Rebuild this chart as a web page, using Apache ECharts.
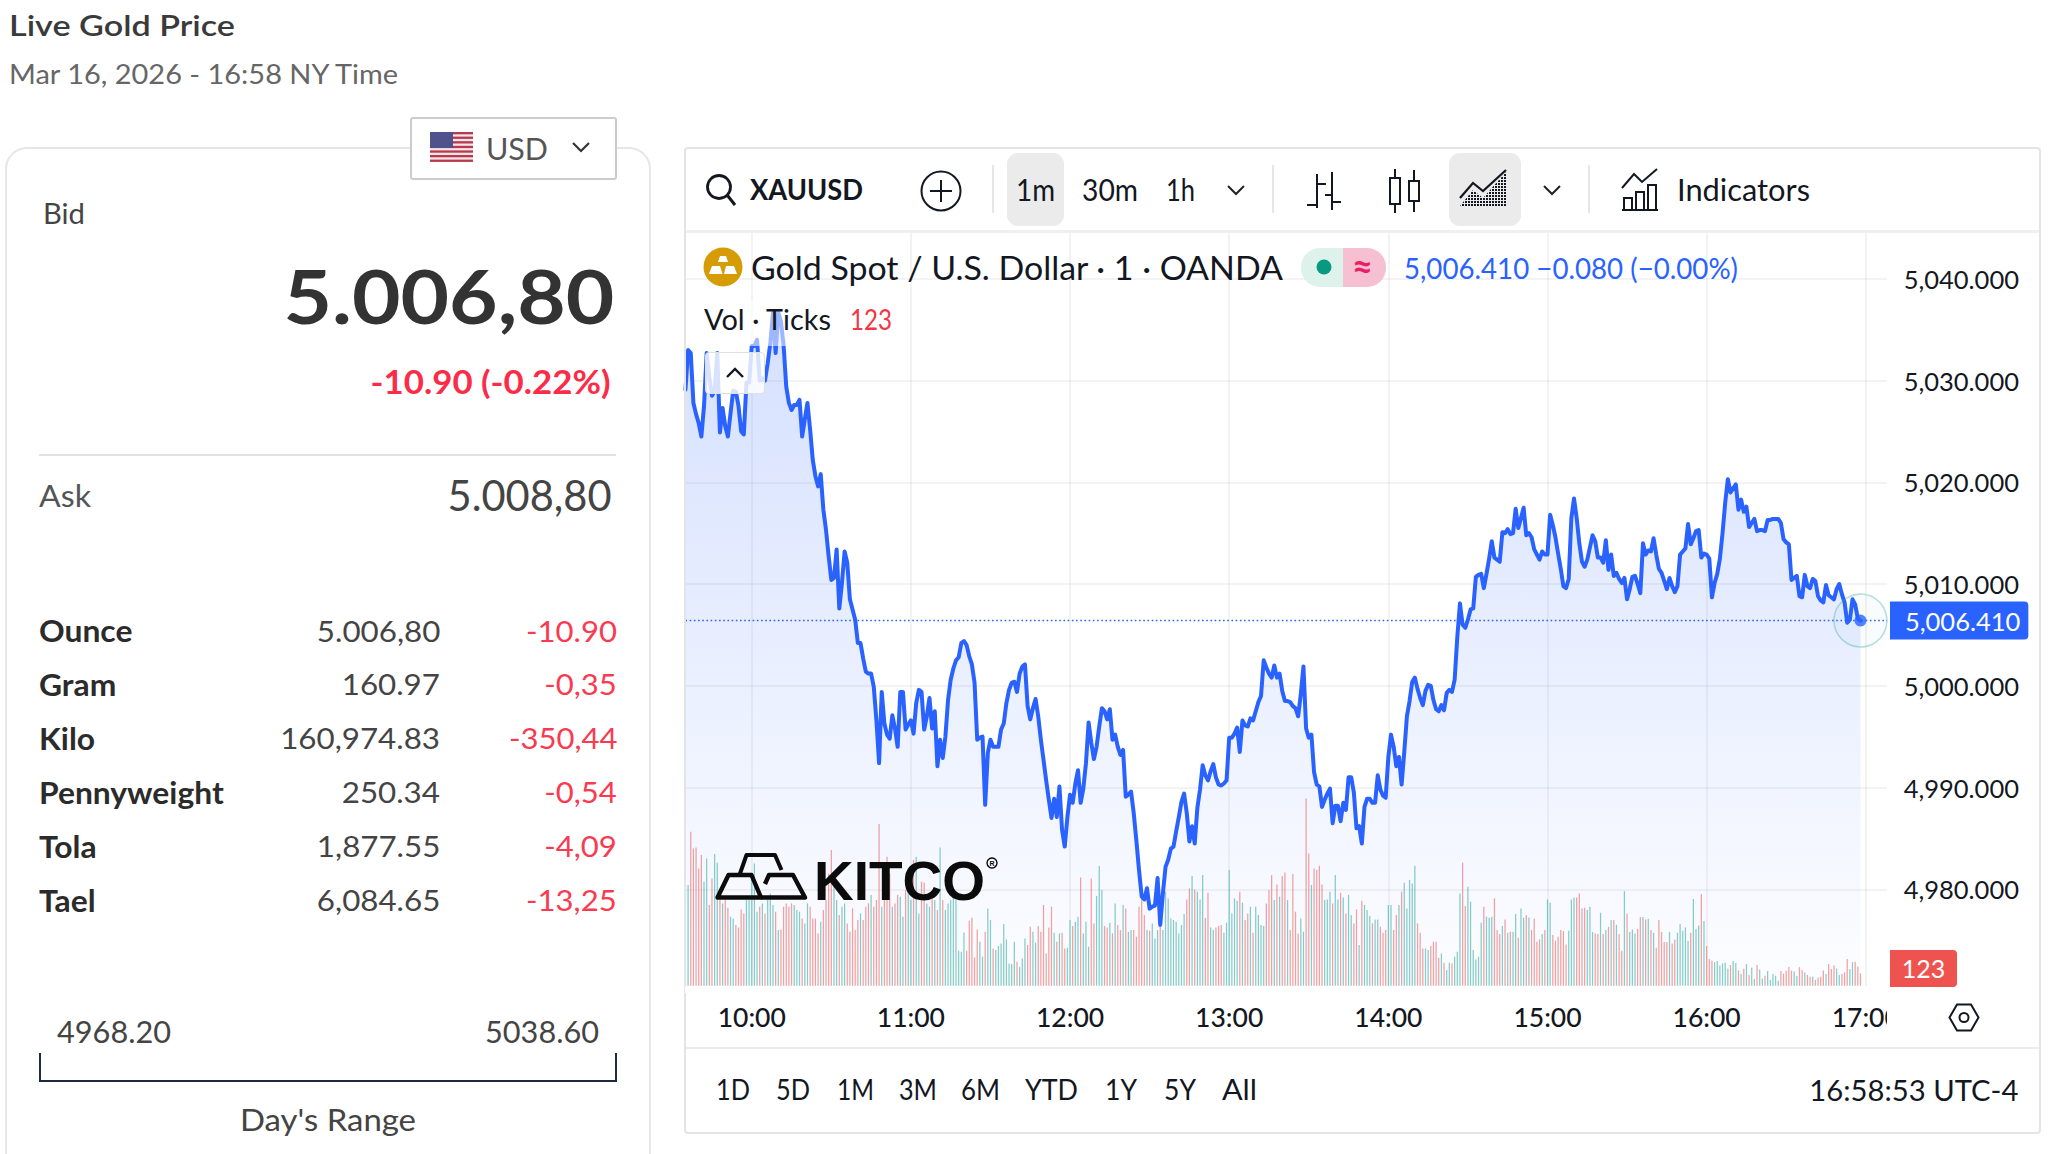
<!DOCTYPE html>
<html>
<head>
<meta charset="utf-8">
<title>Live Gold Price</title>
<script src="https://cdn.jsdelivr.net/npm/echarts@6/dist/echarts.min.js"></script>
<style>
  html, body { margin: 0; padding: 0; background: #fff; }
  #page { position: relative; width: 2048px; height: 1154px; overflow: hidden; font-family: Lato, sans-serif; }
  #chart { position: absolute; left: 0; top: 0; width: 2048px; height: 1154px; }
  .t { position: absolute; white-space: nowrap; line-height: 1; z-index: 5; }
  .box { position: absolute; box-sizing: border-box; }
  svg.ic { position: absolute; overflow: visible; z-index: 5; }
</style>
</head>
<body>
<div id="page">
  <div class="box" style="left:5px;top:147px;width:646px;height:1040px;border:2px solid #e6e6e6;border-radius:22px;"></div>
  <div id="chart"></div>
</div>
<script>
// One-minute XAUUSD closes from 09:35 to 16:58, ten minutes per row.
const prices = [
  5029.1,5033.0,5032.7,5027.8,5026.7,5025.8,5024.5,5027.5,5032.7,5030.4,
  5028.5,5029.0,5032.7,5024.9,5027.3,5025.5,5024.5,5026.8,5029.0,5028.9,
  5027.5,5025.0,5024.7,5029.8,5029.8,5033.4,5033.4,5034.0,5030.0,5030.2,
  5030.0,5031.7,5033.7,5036.7,5032.7,5036.7,5035.8,5033.5,5029.4,5027.8,
  5027.1,5027.6,5027.6,5028.1,5024.5,5026.2,5027.8,5025.2,5022.2,5020.6,
  5019.6,5020.8,5017.3,5015.3,5012.7,5010.4,5010.6,5013.4,5007.6,5010.1,
  5013.2,5012.1,5008.5,5007.5,5006.5,5004.2,5004.2,5002.7,5001.4,5001.2,
  5001.2,4999.9,4996.6,4992.4,4999.4,4996.3,4995.2,4994.8,4997.1,4995.8,
  4994.0,4999.4,4999.4,4995.7,4996.2,4996.6,4995.3,4998.3,4999.6,4999.4,
  4995.7,4997.0,4998.8,4995.8,4997.5,4992.1,4994.7,4992.9,4995.0,4998.6,
  5000.6,5001.7,5002.5,5002.8,5004.2,5004.4,5004.0,5002.9,5002.1,5000.3,
  4994.7,4994.9,4995.0,4988.3,4993.4,4994.7,4994.0,4994.0,4994.0,4995.7,
  4996.3,4998.3,4999.6,5000.3,5000.4,4999.4,5001.2,5001.9,5002.1,4998.0,
  4996.7,4997.8,4998.7,4997.0,4994.7,4992.7,4990.7,4988.8,4987.0,4988.9,
  4987.1,4990.1,4985.8,4984.2,4987.1,4989.3,4988.5,4990.4,4991.7,4988.5,
  4989.9,4992.4,4996.4,4994.4,4992.8,4994.0,4996.0,4997.8,4997.5,4996.7,
  4997.7,4994.7,4995.2,4994.0,4993.2,4993.7,4989.1,4989.3,4989.6,4987.5,
  4984.8,4981.9,4979.3,4979.0,4980.1,4978.1,4978.3,4978.4,4981.1,4976.5,
  4979.6,4982.2,4982.9,4984.0,4984.2,4985.7,4987.1,4988.6,4989.4,4987.5,
  4984.7,4986.2,4984.5,4988.0,4989.8,4992.2,4991.2,4990.7,4991.6,4992.3,
  4991.0,4990.3,4990.2,4990.4,4990.7,4994.9,4994.9,4995.3,4995.9,4993.5,
  4996.6,4996.1,4996.0,4996.8,4996.6,4997.5,4998.4,4999.0,5002.5,5001.8,
  5001.2,5000.8,5002.0,5000.8,5001.2,4999.5,4998.5,4998.5,4998.4,4998.0,
  4997.8,4997.0,4999.2,5001.9,4995.8,4994.9,4995.2,4991.5,4990.3,4990.1,
  4988.1,4988.8,4989.4,4989.9,4986.5,4988.2,4988.2,4986.7,4988.5,4987.8,
  4991.0,4991.0,4989.5,4986.0,4986.2,4984.5,4988.1,4988.9,4988.9,4988.5,
  4988.5,4991.2,4989.8,4989.2,4989.0,4993.0,4995.2,4994.0,4992.1,4993.0,
  4990.3,4993.5,4997.0,4998.5,5000.4,5000.8,4999.7,4998.8,4998.1,4999.5,
  5000.1,5000.0,4998.6,4997.7,4997.5,4998.1,4997.6,4999.3,4999.6,4999.4,
  5000.6,5004.8,5008.1,5006.0,5005.7,5006.5,5007.5,5007.6,5010.7,5010.9,
  5011.0,5009.6,5011.0,5012.5,5014.2,5012.6,5012.4,5012.2,5015.1,5015.0,
  5015.4,5014.9,5015.0,5017.4,5015.5,5016.5,5017.5,5014.8,5015.0,5014.6,
  5013.4,5012.9,5012.4,5013.2,5012.9,5012.9,5016.8,5015.8,5014.6,5013.0,
  5011.5,5009.8,5009.6,5010.5,5016.5,5018.4,5016.5,5014.0,5012.2,5011.7,
  5012.4,5013.6,5014.8,5014.2,5012.6,5012.6,5012.1,5014.3,5011.4,5012.9,
  5010.8,5011.1,5010.5,5010.1,5010.6,5008.5,5009.5,5010.7,5010.8,5010.0,
  5009.1,5014.0,5012.9,5013.3,5013.2,5014.5,5012.9,5011.5,5011.1,5010.3,
  5009.5,5010.6,5009.8,5009.2,5009.8,5012.9,5013.2,5013.5,5015.9,5013.9,
  5014.5,5015.2,5015.3,5012.6,5013.0,5012.9,5012.5,5008.7,5010.1,5011.0,
  5012.5,5015.0,5018.0,5020.3,5019.0,5019.4,5019.8,5017.3,5018.3,5017.1,
  5017.6,5015.6,5016.0,5016.4,5015.2,5015.3,5015.3,5015.2,5016.3,5016.3,
  5016.4,5016.4,5016.4,5016.0,5014.4,5014.1,5013.9,5010.4,5010.6,5010.8,
  5008.8,5008.7,5010.9,5009.8,5009.6,5010.5,5010.3,5008.8,5008.4,5008.2,
  5009.9,5008.9,5008.7,5008.5,5009.5,5010.0,5009.0,5008.2,5006.2,5006.5,
  5008.5,5008.0,5006.6,5006.41
];

// Tick volume for the same minutes.
const ticks = [
  1007,1007,1540,1373,1383,1173,1307,1040,1273,807,
  1073,1317,1230,857,823,857,780,690,673,607,
  583,763,723,857,857,1057,1223,740,790,823,
  723,857,923,807,740,557,563,790,823,790,
  823,807,757,740,673,623,823,790,673,673,
  523,640,757,857,1123,1357,1073,857,707,790,
  823,623,540,773,557,657,723,657,790,823,
  907,790,857,1617,790,1223,1290,1123,790,823,
  907,890,690,957,1123,857,1257,1290,723,1040,
  1033,823,790,907,857,757,1383,857,757,823,
  857,890,857,350,340,533,350,650,680,283,
  563,440,290,540,773,657,373,357,397,423,
  617,463,223,217,440,240,190,273,473,407,
  590,540,430,597,540,807,323,583,790,530,
  440,523,530,373,380,657,597,640,690,1083,
  523,640,390,1073,623,897,1197,957,597,583,
  630,523,823,607,557,807,773,540,557,557,
  490,790,890,707,557,550,623,473,557,690,
  557,940,873,673,657,640,523,607,717,863,
  973,1097,963,940,863,1107,680,930,583,557,
  583,597,607,530,630,1157,723,873,850,940,
  830,657,723,790,530,790,707,607,597,823,
  957,1107,857,1013,890,1097,1133,857,557,1117,
  740,523,673,540,1873,1323,1007,1173,1157,1200,
  1013,857,863,940,823,1107,863,930,883,723,
  907,707,623,763,407,850,807,757,697,623,
  663,663,590,530,557,807,807,557,707,807,
  940,1030,773,1057,1023,1200,623,530,373,373,
  357,397,440,440,280,323,230,157,230,223,
  290,340,923,1230,797,990,840,357,263,290,
  630,790,690,680,690,873,557,517,597,663,
  530,540,540,717,480,773,680,707,683,557,
  673,440,463,517,557,863,830,507,450,490,
  556,546,413,550,862,882,882,922,773,779,
  756,789,536,523,516,729,516,556,589,656,
  656,609,516,350,946,723,536,563,523,566,
  686,686,663,669,556,529,380,656,536,436,
  436,539,423,463,529,616,549,583,446,529,
  866,566,603,916,646,396,266,253,236,246,
  203,223,230,170,206,246,226,153,117,170,
  216,107,180,67,206,163,73,100,147,57,
  117,100,50,147,120,150,186,150,143,97,
  186,156,133,107,90,90,57,83,90,153,
  117,216,166,203,170,107,117,133,266,166,
  236,240,193,123
];

// Minutes along the time axis; the axis runs ten minutes past the last print.
const minuteLabels = [];
for (let m = 9 * 60 + 35; m <= 17 * 60 + 8; m++) {
  minuteLabels.push(String(Math.floor(m / 60)).padStart(2, '0') + ':' + String(m % 60).padStart(2, '0'));
}

// Side panel figures.
const unitNames   = ['Ounce', 'Gram', 'Kilo', 'Pennyweight', 'Tola', 'Tael'];
const unitPrices  = ['5.006,80', '160.97', '160,974.83', '250.34', '1,877.55', '6,084.65'];
const unitChanges = ['-10.90', '-0,35', '-350,44', '-0,54', '-4,09', '-13,25'];
const rangeButtons = ['1D', '5D', '1M', '3M', '6M', 'YTD', '1Y', '5Y', 'All'];

const lastPrice = prices[prices.length - 1];
const lastTicks = ticks[ticks.length - 1];
const lastIndex = prices.length - 1;
const fmt = v => v.toLocaleString('en-US', { minimumFractionDigits: 3, maximumFractionDigits: 3 });
const onHour = (i) => minuteLabels[i] && minuteLabels[i].endsWith(':00');

const page = document.getElementById('page');

// Places a text run by its left or right edge and vertical centre; w stretches it to a given width.
function label(text, o) {
  const el = document.createElement('span');
  el.className = 't';
  el.textContent = text;
  el.style.fontSize = o.size + 'px';
  el.style.fontFamily = o.font || 'Lato, sans-serif';
  el.style.fontWeight = o.weight || 400;
  el.style.color = o.color || '#333';
  el.style.top = (o.y - o.size / 2 - (o.dy === undefined ? 1 : o.dy)) + 'px';
  page.appendChild(el);
  const width = el.getBoundingClientRect().width;
  const sx = o.w ? o.w / width : (o.sx || 1);
  if (o.r !== undefined) {
    el.style.left = (o.r - width) + 'px';
    el.style.transformOrigin = 'right center';
  } else {
    el.style.left = o.x + 'px';
    el.style.transformOrigin = 'left center';
  }
  el.style.transform = 'scaleX(' + sx + ')';
  return el;
}
function box(css) {
  const d = document.createElement('div');
  d.className = 'box';
  d.style.cssText += css;
  page.appendChild(d);
  return d;
}
function icon(x, y, w, h, inner) {
  page.insertAdjacentHTML('beforeend',
    `<svg class="ic" style="left:${x}px;top:${y}px" width="${w}" height="${h}" viewBox="0 0 ${w} ${h}">${inner}</svg>`);
}
const chevron = (cx, cy) => icon(cx - 10, cy - 6, 20, 12, '<path d="M2 2 L10 10 L18 2" fill="none" stroke="#222" stroke-width="2"/>');

// Page header and currency selector
label('Live Gold Price', { x: 9, y: 25, size: 29, weight: 600, color: '#3a3a3a', w: 226 });
label('Mar 16, 2026 - 16:58 NY Time', { x: 9, y: 74, size: 27, color: '#666', w: 389 });
box('left:410px;top:117px;width:207px;height:63px;background:#fff;border:2px solid #ccc;border-radius:3px;z-index:4;');
let stripes = '';
for (let s = 0; s < 7; s++) stripes += `<rect x="0" y="${s * 4.6}" width="43" height="2.3" fill="#b93a4e"/>`;
icon(430, 132, 43, 30, `<rect width="43" height="30" fill="#f3e6e8"/>${stripes}<rect width="23" height="16" fill="#50528c"/>`);
label('USD', { x: 486, y: 149, size: 30, color: '#555', w: 62 });
icon(571, 141, 20, 12, '<path d="M2 2 L10 10 L18 2" fill="none" stroke="#333" stroke-width="2.2"/>');

// Bid and ask block
label('Bid', { x: 43, y: 213, size: 29, color: '#444', w: 42 });
label('5.006,80', { r: 614, y: 297, size: 74, weight: 700, color: '#333', w: 331 });
label('-10.90 (-0.22%)', { r: 611, y: 382.5, size: 32, weight: 700, color: '#fb2c47', w: 240 });
box('left:39px;top:454px;width:577px;height:2px;background:#e2e2e2;');
label('Ask', { x: 39, y: 496, size: 30, color: '#555', w: 52 });
label('5.008,80', { r: 612, y: 495.5, size: 43, color: '#444', w: 164 });

// Price per unit table
unitNames.forEach((name, i) => {
  const y = 631 + i * 53.9;
  label(name, { x: 39, y, size: 30, weight: 700, color: '#2b2b2b', sx: 1.06 });
  label(unitPrices[i], { r: 440, y, size: 29, color: '#444', sx: 1.08 });
  label(unitChanges[i], { r: 617, y, size: 29, color: '#f93a50', sx: 1.07 });
});

// Day's range bracket
label('4968.20', { x: 57, y: 1032, size: 30, color: '#444', w: 114 });
label('5038.60', { x: 485, y: 1032, size: 30, color: '#444', w: 114 });
box('left:39px;top:1053px;width:578px;height:29px;border:2px solid #1b2a3d;border-top:0;');
label("Day's Range", { x: 239.5, y: 1120, size: 30, color: '#444', w: 176 });

// Chart frame
box('left:684px;top:147px;width:1357px;height:987px;border:2px solid #e4e4e4;border-radius:4px;z-index:3;');
box('left:686px;top:230px;width:1353px;height:3px;background:#f0f0f0;z-index:3;');
box('left:686px;top:1047px;width:1353px;height:2px;background:#ececec;z-index:3;');
box('left:685px;top:986px;width:1202px;height:7px;background:#fff;z-index:3;');
box('left:1887px;top:1000px;width:60px;height:40px;background:#fff;z-index:3;');

// Top toolbar
icon(705, 173, 32, 34, '<circle cx="14" cy="14" r="11.5" fill="none" stroke="#131722" stroke-width="2.8"/><path d="M22.5 22.5 L30 32" stroke="#131722" stroke-width="3"/>');
label('XAUUSD', { x: 750, y: 189.5, size: 29, weight: 700, color: '#131722', w: 113 });
icon(920, 170, 42, 42, '<circle cx="21" cy="21" r="19.5" fill="none" stroke="#131722" stroke-width="2"/><path d="M21 10 V32 M10 21 H32" stroke="#131722" stroke-width="2"/>');
[992, 1271.5, 1587.5].forEach(x => box(`left:${x}px;top:165px;width:2px;height:48px;background:#e6e6e6;z-index:4;`));
box('left:1007px;top:153px;width:57px;height:73px;background:#ebebeb;border-radius:11px;z-index:4;');
label('1m', { x: 1016, y: 190, size: 30, color: '#131722', w: 39 });
label('30m', { x: 1082, y: 190, size: 30, color: '#131722', w: 56 });
label('1h', { x: 1166, y: 190, size: 30, color: '#131722', w: 29 });
chevron(1236, 190);
icon(1306, 170, 36, 42, '<path d="M11 4 V38 M1 35 H11 M11 14 H20 M26 2 V40 M19 25 H26 M26 32 H35" fill="none" stroke="#131722" stroke-width="2"/>');
icon(1388, 168, 34, 46, '<rect x="2" y="10" width="10" height="26" fill="none" stroke="#131722" stroke-width="2"/><path d="M7 1 V10 M7 36 V45 M26 2 V13 M26 33 V44" stroke="#131722" stroke-width="2"/><rect x="21" y="13" width="10" height="20" fill="none" stroke="#131722" stroke-width="2"/>');
box('left:1449px;top:153px;width:72px;height:73px;background:#ebebeb;border-radius:11px;z-index:4;');
icon(1459, 168, 50, 40, '<defs><pattern id="hatch" width="3" height="3" patternUnits="userSpaceOnUse"><rect width="2" height="2" fill="#131722"/></pattern></defs><path d="M1 38 L14 22 L24 30 L47 4 V38 Z" fill="url(#hatch)"/><path d="M1 30 L14 15 L24 23 L47 2" fill="none" stroke="#131722" stroke-width="2.2"/>');
chevron(1552, 190);
icon(1620, 168, 40, 44, '<path d="M2 20 L14 6 L22 14 L37 1" fill="none" stroke="#131722" stroke-width="2"/><path d="M2 42 H38 M4 42 V30 H12 V42 M16 42 V24 H24 V42 M28 42 V17 H36 V42" fill="none" stroke="#131722" stroke-width="2"/>');
label('Indicators', { x: 1677, y: 189.5, size: 30, color: '#131722', w: 133 });

// Range buttons and clock
const rangeEdges = [[716,750],[776,810],[837,874],[899,937],[961,1000],[1025,1078],[1105,1137],[1164,1196],[1222,1257]];
rangeButtons.forEach((b, i) => label(b, { x: rangeEdges[i][0], y: 1090, size: 28, color: '#131722', w: rangeEdges[i][1] - rangeEdges[i][0] }));
label('16:58:53 UTC-4', { r: 2018, y: 1090, size: 29, color: '#131722', w: 209 });

// Translucent backing behind the second legend row, then the legend itself
box('left:700px;top:300px;width:205px;height:46px;background:rgba(255,255,255,.55);z-index:4;');
icon(703, 247, 40, 40, '<circle cx="20" cy="20" r="19.5" fill="#d69c06"/><path d="M15 15 L17 9 H23 L25 15 Z M6 27 L9 19 H17 L19.5 27 Z M21 27 L23 19 H31 L34 27 Z" fill="#fff"/>');
label('Gold Spot / U.S. Dollar · 1 · OANDA', { x: 751, y: 268, size: 33, color: '#131722', w: 532 });
box('left:1301px;top:248px;width:42px;height:39px;background:#def2ec;border-radius:19px 0 0 19px;z-index:5;');
box('left:1343px;top:248px;width:43px;height:39px;background:#f7bfd2;border-radius:0 19px 19px 0;z-index:5;');
icon(1316, 259, 16, 16, '<circle cx="8" cy="8" r="7.5" fill="#089981"/>');
label('≈', { x: 1352, y: 268, size: 36, weight: 700, color: '#e91e63', dy: 3 });
label(fmt(lastPrice) + '  −0.080  (−0.00%)', { x: 1404, y: 268, size: 29, color: '#2962ff', w: 334 });
label('Vol · Ticks', { x: 704, y: 319, size: 29, color: '#131722', w: 127 });
label(String(lastTicks), { x: 850, y: 319, size: 29, color: '#f23645', w: 42 });
box('left:705px;top:352px;width:60px;height:42px;background:rgba(255,255,255,.82);border:1.5px solid #e0e0e0;border-radius:4px;z-index:5;');
icon(725, 367, 20, 12, '<path d="M2 10 L10 2 L18 10" fill="none" stroke="#131722" stroke-width="2.4"/>');

// Time-axis settings button
icon(1948, 1003, 32, 29, '<path d="M9 1.5 H23 L30.5 14.5 L23 27.5 H9 L1.5 14.5 Z" fill="none" stroke="#131722" stroke-width="2"/><circle cx="16" cy="14.5" r="4.5" fill="none" stroke="#131722" stroke-width="2"/>');

// The two panes share one time axis: price above, tick volume along the bottom.
const paneLeft = 685.45, paneWidth = 1201.55;
const gridLine = { show: true, interval: (i) => onHour(i), lineStyle: { color: 'rgba(42,46,57,0.075)', width: 1.5 } };

const chart = echarts.init(document.getElementById('chart'), null, { renderer: 'svg' });
chart.setOption({
  animation: false,
  grid: [
    { left: paneLeft, width: paneWidth, top: 233, height: 758.05 },
    { left: paneLeft, width: paneWidth, top: 785.7, height: 200 }
  ],
  xAxis: [
    {
      type: 'category', gridIndex: 0, data: minuteLabels, boundaryGap: false,
      axisLine: { show: false }, axisTick: { show: false }, axisLabel: { show: false },
      splitLine: gridLine
    },
    {
      type: 'category', gridIndex: 1, data: minuteLabels, boundaryGap: false,
      axisLine: { show: false }, axisTick: { show: false },
      axisLabel: {
        interval: (i) => onHour(i), margin: 18, color: '#131722',
        fontFamily: 'Lato', fontSize: 26.5, fontWeight: 500
      },
      splitLine: { show: false }
    }
  ],
  yAxis: [
    {
      type: 'value', gridIndex: 0, position: 'right', min: 4970, max: 5044.5, interval: 10,
      axisLine: { show: false }, axisTick: { show: false },
      axisLabel: {
        align: 'right', margin: 132, color: '#131722', fontFamily: 'Lato', fontSize: 25.5,
        padding: [0, 0, 6, 0],
        formatter: v => (v === 4970 || v % 10 !== 0) ? '' : fmt(v)
      },
      splitLine: { show: true, showMinLine: false, showMaxLine: false, lineStyle: { color: 'rgba(42,46,57,0.075)', width: 1.5 } }
    },
    {
      type: 'value', gridIndex: 1, min: 0, max: 2000, show: false, splitLine: { show: false }
    }
  ],
  series: [
    {
      name: 'XAUUSD', type: 'line', xAxisIndex: 0, yAxisIndex: 0, data: prices,
      showSymbol: false, z: 4,
      lineStyle: { color: '#2962ff', width: 4, join: 'round', cap: 'round' },
      areaStyle: {
        color: new echarts.graphic.LinearGradient(0, 0, 0, 1, [
          { offset: 0, color: 'rgba(41,98,255,0.28)' },
          { offset: 1, color: 'rgba(41,98,255,0.015)' }
        ])
      },
      markLine: {
        silent: true, symbol: 'none', animation: false,
        lineStyle: { color: '#2962ff', type: [1.6, 2.6], width: 1.4 },
        label: {
          show: true, position: 'end', distance: 3, formatter: () => fmt(lastPrice),
          backgroundColor: '#2962ff', color: '#fff', fontFamily: 'Lato', fontSize: 25.5,
          padding: [4, 8, 8, 15], borderRadius: [0, 4, 4, 0]
        },
        data: [{ yAxis: lastPrice }]
      }
    },
    {
      name: 'Vol', type: 'bar', xAxisIndex: 1, yAxisIndex: 1, barWidth: 1.25, z: 3,
      data: ticks.map((v, i) => ({
        value: v,
        itemStyle: { color: (i === 0 || prices[i] >= prices[i - 1]) ? 'rgba(38,166,154,0.55)' : 'rgba(239,83,80,0.55)' }
      }))
    },
    {
      name: 'ring', type: 'scatter', xAxisIndex: 0, yAxisIndex: 0, z: 5, silent: true,
      symbolSize: 53, data: [[lastIndex, lastPrice]],
      itemStyle: { color: 'rgba(38,166,154,0.04)', borderColor: 'rgba(38,166,154,0.42)', borderWidth: 1.6 }
    },
    {
      name: 'last', type: 'scatter', xAxisIndex: 0, yAxisIndex: 0, z: 6, silent: true,
      symbolSize: 12, data: [[lastIndex, lastPrice]], itemStyle: { color: '#2962ff' }
    }
  ],
  graphic: [
    // Current-volume tag on the price scale
    { type: 'rect', z: 20, shape: { x: 1890, y: 950, width: 67, height: 37, r: [0, 4, 4, 0] }, style: { fill: '#ef5350' } },
    { type: 'text', z: 21, style: { x: 1923.5, y: 968, text: String(lastTicks), fill: '#fff', font: '25px Lato', textAlign: 'center', textVerticalAlign: 'middle' } },
    // Watermark
    { type: 'polyline', z: 20, shape: { points: [[739.5, 875], [746.5, 855], [775, 855], [781.5, 870]] }, style: { fill: 'none', stroke: '#0b0b0b', lineWidth: 4, lineJoin: 'round' } },
    { type: 'polygon', z: 20, shape: { points: [[717.5, 897.5], [728.5, 875], [751.5, 875], [761, 897.5]] }, style: { fill: 'none', stroke: '#0b0b0b', lineWidth: 4.4, lineJoin: 'round' } },
    { type: 'polyline', z: 20, shape: { points: [[765, 884], [769, 875], [793, 875], [805, 897.5], [761, 897.5]] }, style: { fill: 'none', stroke: '#0b0b0b', lineWidth: 4.4, lineJoin: 'round' } },
    { type: 'text', z: 20, style: { x: 814, y: 881, text: 'KITCO', fill: '#0b0b0b', font: 'bold 55px "Liberation Sans"', textVerticalAlign: 'middle' } },
    { type: 'circle', z: 20, shape: { cx: 992, cy: 863, r: 5 }, style: { fill: 'none', stroke: '#0b0b0b', lineWidth: 1.4 } },
    { type: 'text', z: 20, style: { x: 992, y: 863.5, text: 'R', fill: '#0b0b0b', font: 'bold 7px "Liberation Sans"', textAlign: 'center', textVerticalAlign: 'middle' } }
  ]
});
</script>
</body>
</html>
